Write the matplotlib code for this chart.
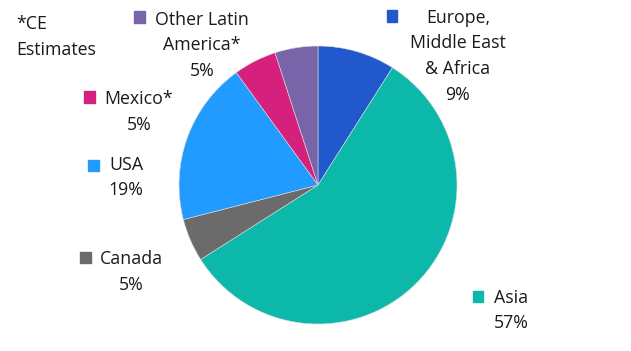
import matplotlib
matplotlib.use("Agg")
import matplotlib.pyplot as plt
from matplotlib.patches import Rectangle

categories = ["Europe,\nMiddle East\n& Africa", "Asia", "Canada", "USA", "Mexico*", "Other Latin\nAmerica*"]
values = [9, 57, 5, 19, 5, 5]
colors = ["#2159CD", "#0BB8A9", "#6B6B6B", "#219BFF", "#D5207E", "#7864A8"]
note = "*CE\nEstimates"

W, H = 631, 351
fig = plt.figure(figsize=(W / 100, H / 100), dpi=100)
plt.rcParams['font.family'] = ['Open Sans', 'DejaVu Sans']

cx, cy, r = 318, 185, 139
ax = fig.add_axes([(cx - r) / W, (H - cy - r) / H, 2 * r / W, 2 * r / H])
ax.pie(values, colors=colors, startangle=90, counterclock=False, radius=1,
       wedgeprops=dict(edgecolor="#dddddd", linewidth=0.4))
ax.set_xlim(-1, 1)
ax.set_ylim(-1, 1)
ax.set_aspect('equal')
ax.axis('off')

fs = 12.8
tc = "#1a1a1a"
lh = 25.5

def px(x, y):
    return x / W, 1 - y / H

# label layout: (square x, square y, text center x, first line y)
layout = {
    0: (392, 16, 458, 18),
    1: (478, 296, 511, 298),
    2: (85, 257, 131, 259),
    3: (93, 165, 126, 165),
    4: (89, 97, 139, 99),
    5: (139, 17, 202, 20),
}
for i, (cat, val) in enumerate(zip(categories, values)):
    sx, sy, tx, ty = layout[i]
    lines = cat.split("\n") + [f"{val}%"]
    for k, line in enumerate(lines):
        x, y = px(tx, ty + k * lh)
        fig.text(x, y, line, ha='center', va='center', fontsize=fs, color=tc)
    s = 11
    fig.patches.append(Rectangle(((sx - s / 2) / W, 1 - (sy + s / 2) / H), s / W, s / H,
                                 transform=fig.transFigure, color=colors[i]))

for k, line in enumerate(note.split("\n")):
    x, y = px(16, 24 + k * 26)
    fig.text(x, y, line, ha='left', va='center', fontsize=fs, color=tc)

fig.savefig("out.png", dpi=100)
